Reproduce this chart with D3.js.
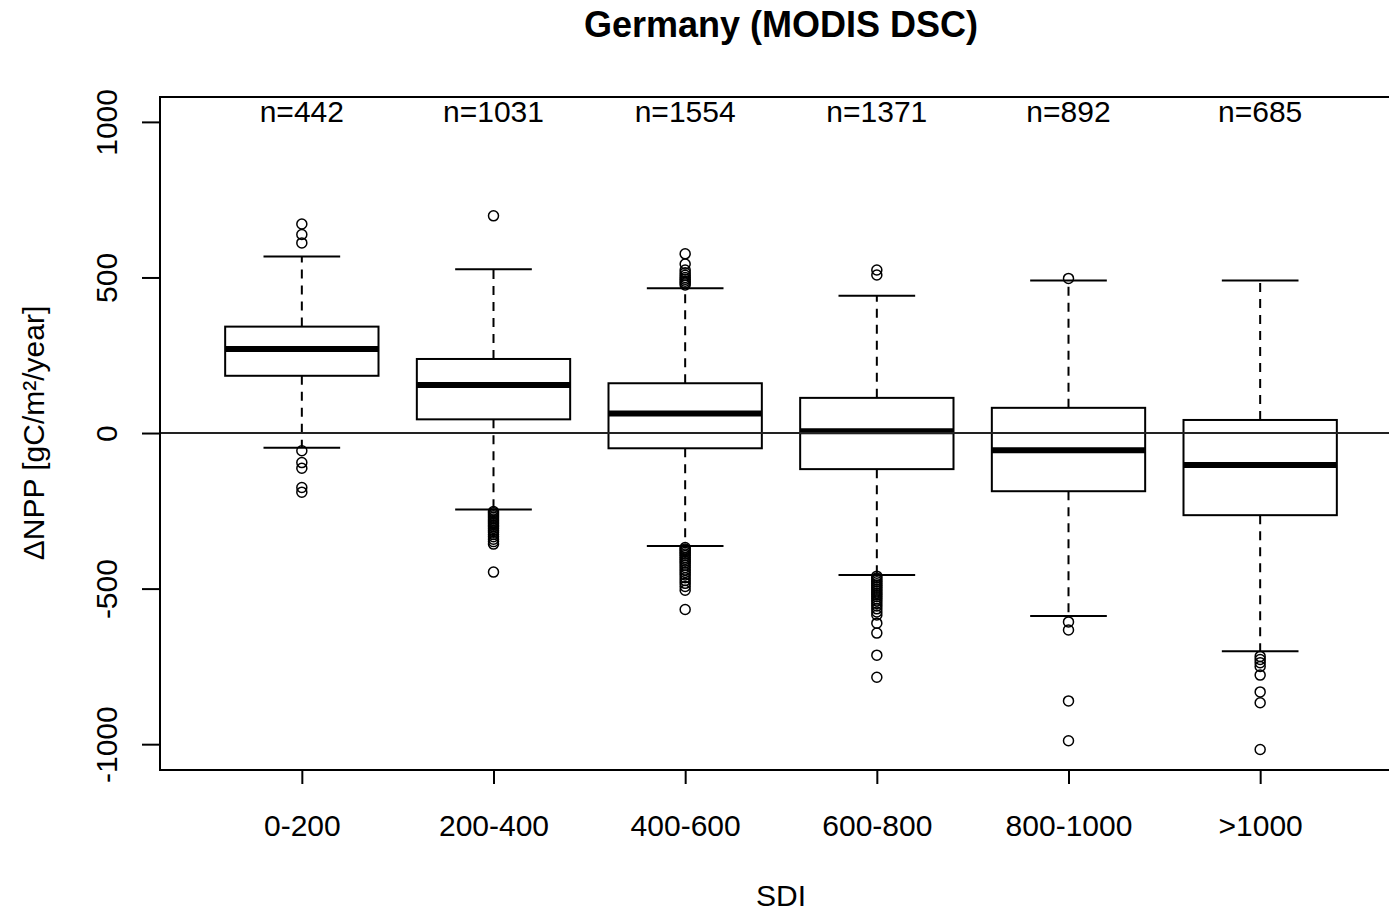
<!DOCTYPE html>
<html>
<head>
<meta charset="utf-8">
<script src="https://cdn.jsdelivr.net/npm/d3@7.9.0/dist/d3.min.js"></script>
<style>
  body { margin: 0; background: #fff; }
  svg text { font-family: "Liberation Sans", Arial, sans-serif; fill: #000; }
</style>
</head>
<body>
<svg id="chart" width="1389" height="913"></svg>
<script>
// DATA
const categories = ['0-200', '200-400', '400-600', '600-800', '800-1000', '>1000'];
const counts = [442, 1031, 1554, 1371, 892, 685];

const lowerWhisker = [-47, -246, -363, -456, -588, -701];
const q1 = [184, 44, -49, -116, -187, -264];
const median = [270, 154, 63, 6, -55, -103];
const q3 = [342, 238, 160, 113, 81, 42];
const upperWhisker = [567, 526, 465, 441, 490, 490];

const outliers = [
    [672, 638, 611, -57, -95, -113, -175, -190],
    [698, -252, -256, -261, -266, -271, -276, -281, -286, -291, -296, -301, -307,
        -313, -319, -326, -333, -341, -349, -357, -447],
    [576, 543, 524, 515, 507, 500, 494, 488, 482, 476,
        -368, -373, -378, -383, -389, -394, -400, -406, -412, -418, -425, -432,
        -440, -448, -456, -465, -474, -483, -493, -505, -567],
    [524, 508, -460, -466, -472, -478, -484, -490, -496, -502, -508, -514, -520,
        -526, -533, -540, -548, -556, -565, -575, -585, -611, -643, -714, -785],
    [497, -607, -633, -861, -989],
    [-718, -728, -738, -750, -778, -832, -867, -1017]
];

const yTicks = [-1000, -500, 0, 500, 1000];

// LAYOUT
const plotLeft = 160, plotTop = 97, plotRight = 1402, plotBottom = 770;

const svg = d3.select('#chart');

const x = d3.scaleLinear().domain([0.26, 6.74]).range([plotLeft, plotRight]);
const y = d3.scaleLinear().domain([-1083, 1080]).range([plotBottom, plotTop]);

const boxHalf = (x(1.4) - x(1));
const capHalf = boxHalf / 2;

const plot = svg.append('g');

// BOXES
categories.forEach((cat, i) => {
    const cx = x(i + 1);

    // whiskers
    plot.append('line')
        .attr('x1', cx).attr('x2', cx)
        .attr('y1', y(q3[i])).attr('y2', y(upperWhisker[i]))
        .attr('stroke', '#000').attr('stroke-width', 2)
        .attr('stroke-dasharray', '9,7');
    plot.append('line')
        .attr('x1', cx).attr('x2', cx)
        .attr('y1', y(q1[i])).attr('y2', y(lowerWhisker[i]))
        .attr('stroke', '#000').attr('stroke-width', 2)
        .attr('stroke-dasharray', '9,7');

    // caps
    [upperWhisker[i], lowerWhisker[i]].forEach(v => {
        plot.append('line')
            .attr('x1', cx - capHalf).attr('x2', cx + capHalf)
            .attr('y1', y(v)).attr('y2', y(v))
            .attr('stroke', '#000').attr('stroke-width', 2);
    });

    // box
    plot.append('rect')
        .attr('x', cx - boxHalf)
        .attr('y', y(q3[i]))
        .attr('width', boxHalf * 2)
        .attr('height', y(q1[i]) - y(q3[i]))
        .attr('fill', 'none')
        .attr('stroke', '#000').attr('stroke-width', 2);

    // median
    plot.append('line')
        .attr('x1', cx - boxHalf).attr('x2', cx + boxHalf)
        .attr('y1', y(median[i])).attr('y2', y(median[i]))
        .attr('stroke', '#000').attr('stroke-width', 6);

    // outliers
    plot.selectAll(null)
        .data(outliers[i])
        .enter()
        .append('circle')
        .attr('cx', cx)
        .attr('cy', d => y(d))
        .attr('r', 5)
        .attr('fill', 'none')
        .attr('stroke', '#000')
        .attr('stroke-width', 1.5);

    // n= labels
    svg.append('text')
        .attr('x', cx)
        .attr('y', 122)
        .attr('text-anchor', 'middle')
        .style('font-size', '30px')
        .text(`n=${counts[i]}`);
});

// zero line
svg.append('line')
    .attr('x1', plotLeft).attr('x2', plotRight)
    .attr('y1', y(0)).attr('y2', y(0))
    .attr('stroke', '#222').attr('stroke-width', 2);

// frame
svg.append('rect')
    .attr('x', plotLeft).attr('y', plotTop)
    .attr('width', plotRight - plotLeft).attr('height', plotBottom - plotTop)
    .attr('fill', 'none')
    .attr('stroke', '#000').attr('stroke-width', 2);

// AXES
const yAxis = svg.append('g')
    .attr('transform', `translate(${plotLeft},0)`)
    .call(d3.axisLeft(y)
        .tickValues(yTicks)
        .tickFormat(d => String(d))
        .tickSize(18)
        .tickSizeOuter(0));

yAxis.select('.domain').remove();
yAxis.selectAll('line').attr('stroke', '#000').attr('stroke-width', 2);
yAxis.selectAll('text')
    .attr('transform', 'rotate(-90)')
    .attr('x', 0)
    .attr('y', -43)
    .attr('dy', 0)
    .attr('text-anchor', 'middle')
    .attr('fill', '#000')
    .style('font-size', '30px');

const xAxis = svg.append('g')
    .attr('transform', `translate(0,${plotBottom})`)
    .call(d3.axisBottom(x)
        .tickValues(d3.range(1, categories.length + 1))
        .tickFormat(d => categories[d - 1])
        .tickSize(14)
        .tickSizeOuter(0));

xAxis.select('.domain').remove();
xAxis.selectAll('line').attr('stroke', '#000').attr('stroke-width', 2);
xAxis.selectAll('text')
    .attr('y', 66)
    .attr('dy', 0)
    .attr('fill', '#000')
    .style('font-size', '30px');

// TITLES
svg.append('text')
    .attr('x', 781)
    .attr('y', 37)
    .attr('text-anchor', 'middle')
    .style('font-size', '36px')
    .style('font-weight', 'bold')
    .text('Germany (MODIS DSC)');

svg.append('text')
    .attr('x', 781)
    .attr('y', 906)
    .attr('text-anchor', 'middle')
    .style('font-size', '30px')
    .text('SDI');

svg.append('text')
    .attr('transform', `translate(44,${y(0)}) rotate(-90)`)
    .attr('text-anchor', 'middle')
    .style('font-size', '30px')
    .text('ΔNPP [gC/m²/year]');
</script>
</body>
</html>
